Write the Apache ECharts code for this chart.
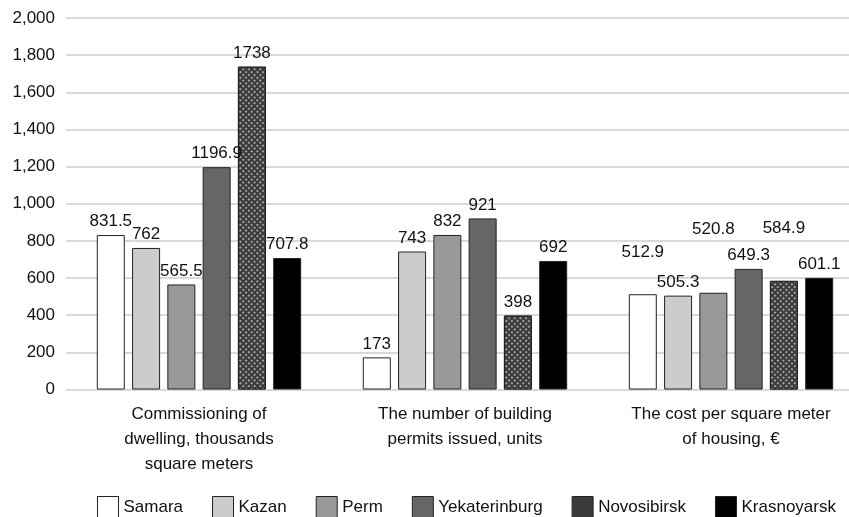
<!DOCTYPE html>
<html>
<head>
<meta charset="utf-8">
<script src="https://cdn.jsdelivr.net/npm/echarts@6/dist/echarts.min.js"></script>
<style>
  html, body { margin: 0; padding: 0; background: #fff; }
  #main { width: 849px; height: 517px; }
</style>
</head>
<body>
<div id="main"></div>
<script>
// categories and series values
var categories = [
  'Commissioning of\ndwelling, thousands\nsquare meters',
  'The number of building\npermits issued, units',
  'The cost per square meter\nof housing, \u20ac'
];
var cities = ['Samara', 'Kazan', 'Perm', 'Yekaterinburg', 'Novosibirsk', 'Krasnoyarsk'];
var samara = [831.5, 173, 512.9];
var kazan = [762, 743, 505.3];
var perm = [565.5, 832, 520.8];
var yekaterinburg = [1196.9, 921, 649.3];
var novosibirsk = [1738, 398, 584.9];
var krasnoyarsk = [707.8, 692, 601.1];
var yTicks = [0, 200, 400, 600, 800, 1000, 1200, 1400, 1600, 1800, 2000];

var values = [samara, kazan, perm, yekaterinburg, novosibirsk, krasnoyarsk];
var colors = ['#ffffff', '#cccccc', '#999999', '#666666', '#3a3a3a', '#000000'];
// label nudges in the third group (labels sit higher in the original)
var labelLift = [[0, 0, -28], [0, 0, 0], [0, 0, -50], [0, 0, 0], [0, 0, -39], [0, 0, 0]];
var font = "'Liberation Sans', Arial, sans-serif";

var myChart = echarts.init(document.getElementById('main'));

var series = cities.map(function (name, i) {
  return {
    name: name,
    type: 'bar',
    barWidth: 28,
    barGap: '26%',
    itemStyle: { color: colors[i], borderColor: '#222', borderWidth: 1 },
    label: {
      show: true,
      position: 'top',
      distance: 5,
      color: '#111',
      fontSize: 17,
      fontFamily: font,
      formatter: function (p) { return String(p.value); }
    },
    data: values[i].map(function (v, j) {
      var d = { value: v };
      if (labelLift[i][j]) d.label = { offset: [0, labelLift[i][j]] };
      if (name === 'Novosibirsk') {
        d.itemStyle = {
          decal: {
            symbol: 'rect',
            symbolSize: 1,
            color: 'rgba(170,170,170,0.9)',
            dashArrayX: [2, 2],
            dashArrayY: [2, 2],
            rotation: Math.PI / 4
          }
        };
      }
      return d;
    })
  };
});

var option = {
  backgroundColor: '#fff',
  animation: false,
  textStyle: { fontFamily: font },
  grid: { left: 66, width: 798, top: 18, bottom: 127.5, containLabel: false, outerBoundsMode: 'none' },
  legend: {
    data: cities,
    left: 97,
    top: 496,
    padding: 0,
    itemWidth: 21,
    itemHeight: 21,
    itemGap: 29,
    icon: 'rect',
    itemStyle: { borderColor: '#222', borderWidth: 1 },
    textStyle: { fontSize: 17, color: '#111', fontFamily: font }
  },
  xAxis: {
    type: 'category',
    data: categories,
    axisLine: { show: false },
    axisTick: { show: false },
    axisLabel: {
      interval: 0,
      margin: 12,
      fontSize: 17,
      lineHeight: 25,
      color: '#111',
      fontFamily: font
    }
  },
  yAxis: {
    type: 'value',
    min: yTicks[0],
    max: yTicks[yTicks.length - 1],
    interval: 200,
    axisLine: { show: false },
    axisTick: { show: false },
    splitLine: { lineStyle: { color: '#d9d9d9', width: 2 } },
    axisLabel: {
      margin: 11,
      fontSize: 17,
      color: '#111',
      fontFamily: font,
      formatter: function (v) { return v.toLocaleString('en-US'); }
    }
  },
  series: series
};

myChart.setOption(option);
</script>
</body>
</html>
